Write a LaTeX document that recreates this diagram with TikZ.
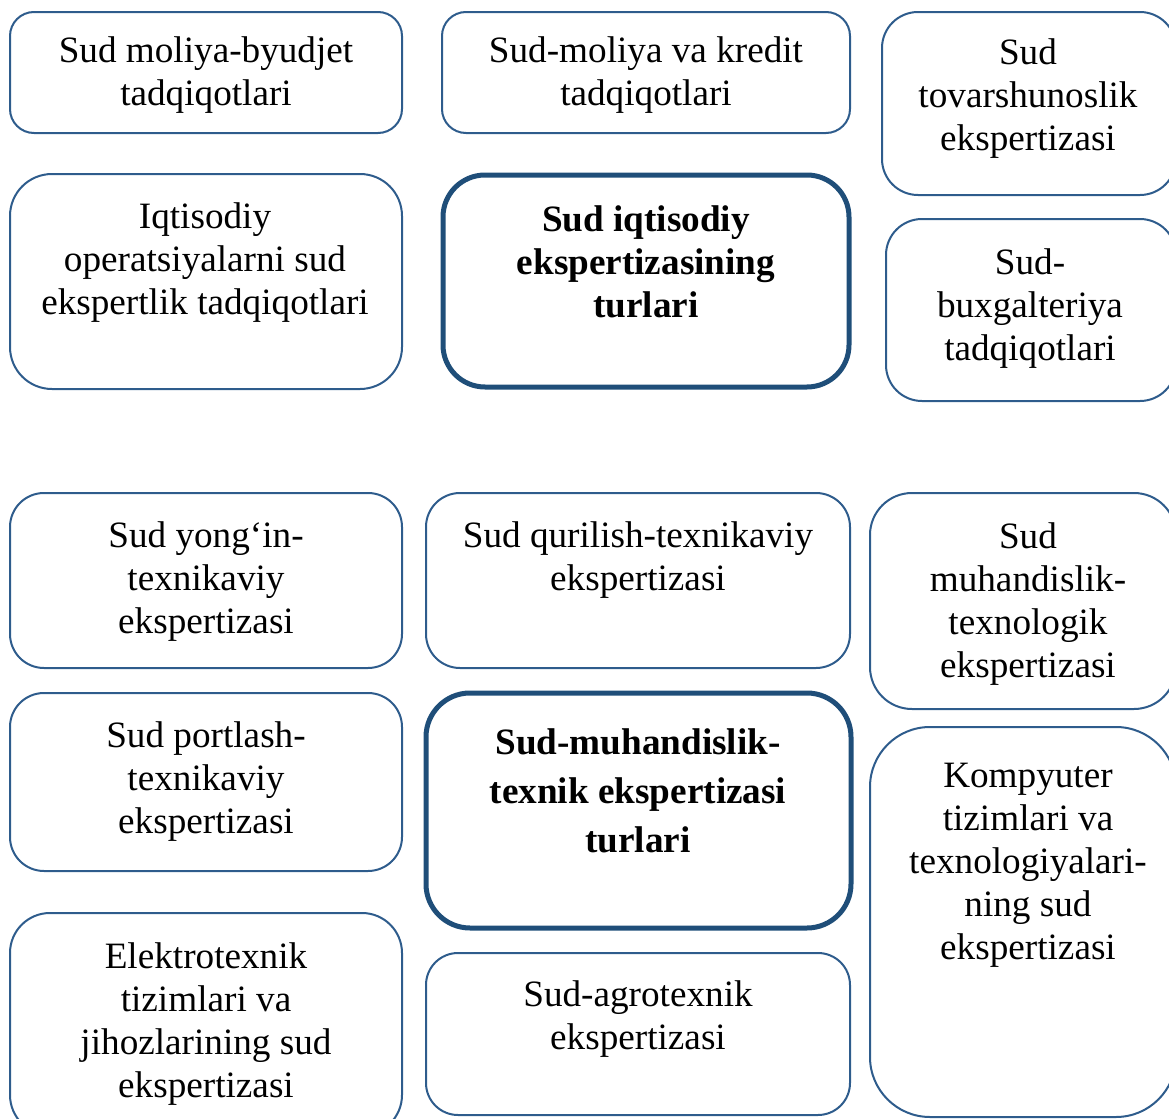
\documentclass[tikz,border=0pt]{standalone}
\usepackage{fontspec}
\setmainfont{Liberation Serif}
\usepackage{xcolor}
\usepackage{tikz}
\definecolor{boxblue}{RGB}{46,92,140}
\definecolor{boxdark}{RGB}{31,78,121}
\tikzset{
  thinbox/.style={draw=boxblue, line width=1pt},
  thickbox/.style={draw=boxdark, line width=2.5pt},
  % anchor base = baseline of the last line
  lbl/.style={anchor=base, align=center, inner sep=0pt,
    font=\fontsize{18.6}{21.5}\selectfont},
  bold lbl/.style={lbl, font=\fontsize{18.6}{21.5}\selectfont\bfseries},
  wide bold lbl/.style={lbl, font=\fontsize{18.6}{24.5}\selectfont\bfseries}
}

\begin{document}
\begin{tikzpicture}[x=0.5pt, y=-0.5pt]
\useasboundingbox (0,0) rectangle (1169,1119);
\clip (0,0) rectangle (1169,1119);

% upper group
\draw[thinbox, rounded corners=12pt] (10,12) rectangle (402,133);
\node[lbl] (moliyabyudjet) at (206,105) {Sud moliya-byudjet\\tadqiqotlari};
\draw[thinbox, rounded corners=12pt] (442,12) rectangle (850,133);
\node[lbl] (kredit) at (646,105) {Sud-moliya va kredit\\tadqiqotlari};
\draw[thinbox, rounded corners=18pt] (882,12) rectangle (1176,195);
\node[lbl] (tovar) at (1028,150) {Sud\\tovarshunoslik\\ekspertizasi};
\draw[thinbox, rounded corners=21pt] (10,174) rectangle (402,389);
\node[lbl] (operatsiya) at (205,314) {Iqtisodiy\\operatsiyalarni sud\\ekspertlik tadqiqotlari};
\draw[thickbox, rounded corners=21pt] (443,175) rectangle (849,387);
\node[bold lbl] (iqtisodiy) at (646,317) {Sud iqtisodiy\\ekspertizasining\\turlari};
\draw[thinbox, rounded corners=18pt] (886,219) rectangle (1176,401);
\node[lbl] (buxgalteriya) at (1030,360) {Sud-\\buxgalteriya\\tadqiqotlari};

% lower group
\draw[thinbox, rounded corners=17pt] (10,493) rectangle (402,668);
\node[lbl] (yongin) at (206,633) {Sud yong‘in-\\texnikaviy\\ekspertizasi};
\draw[thinbox, rounded corners=17pt] (426,493) rectangle (850,668);
\node[lbl] (qurilish) at (638,590) {Sud qurilish-texnikaviy\\ekspertizasi};
\draw[thinbox, rounded corners=21pt] (870,493) rectangle (1176,709);
\node[lbl] (texnologik) at (1028,677) {Sud\\muhandislik-\\texnologik\\ekspertizasi};
\draw[thinbox, rounded corners=17pt] (10,693) rectangle (402,871);
\node[lbl] (portlash) at (206,833) {Sud portlash-\\texnikaviy\\ekspertizasi};
\draw[thickbox, rounded corners=22pt] (426,693) rectangle (851,928);
\node[wide bold lbl] (muhandislik) at (638,852) {Sud-muhandislik-\\texnik ekspertizasi\\turlari};
\draw[thinbox, rounded corners=30pt] (870,727) rectangle (1176,1117);
\node[lbl] (kompyuter) at (1028,959) {Kompyuter\\tizimlari va\\texnologiyalari-\\ning sud\\ekspertizasi};
\draw[thinbox, rounded corners=20pt] (10,913) rectangle (402,1135);
\node[lbl] (elektro) at (206,1097) {Elektrotexnik\\tizimlari va\\jihozlarining sud\\ekspertizasi};
\draw[thinbox, rounded corners=16pt] (426,953) rectangle (850,1115);
\node[lbl] (agro) at (638,1049) {Sud-agrotexnik\\ekspertizasi};
\end{tikzpicture}
\end{document}
